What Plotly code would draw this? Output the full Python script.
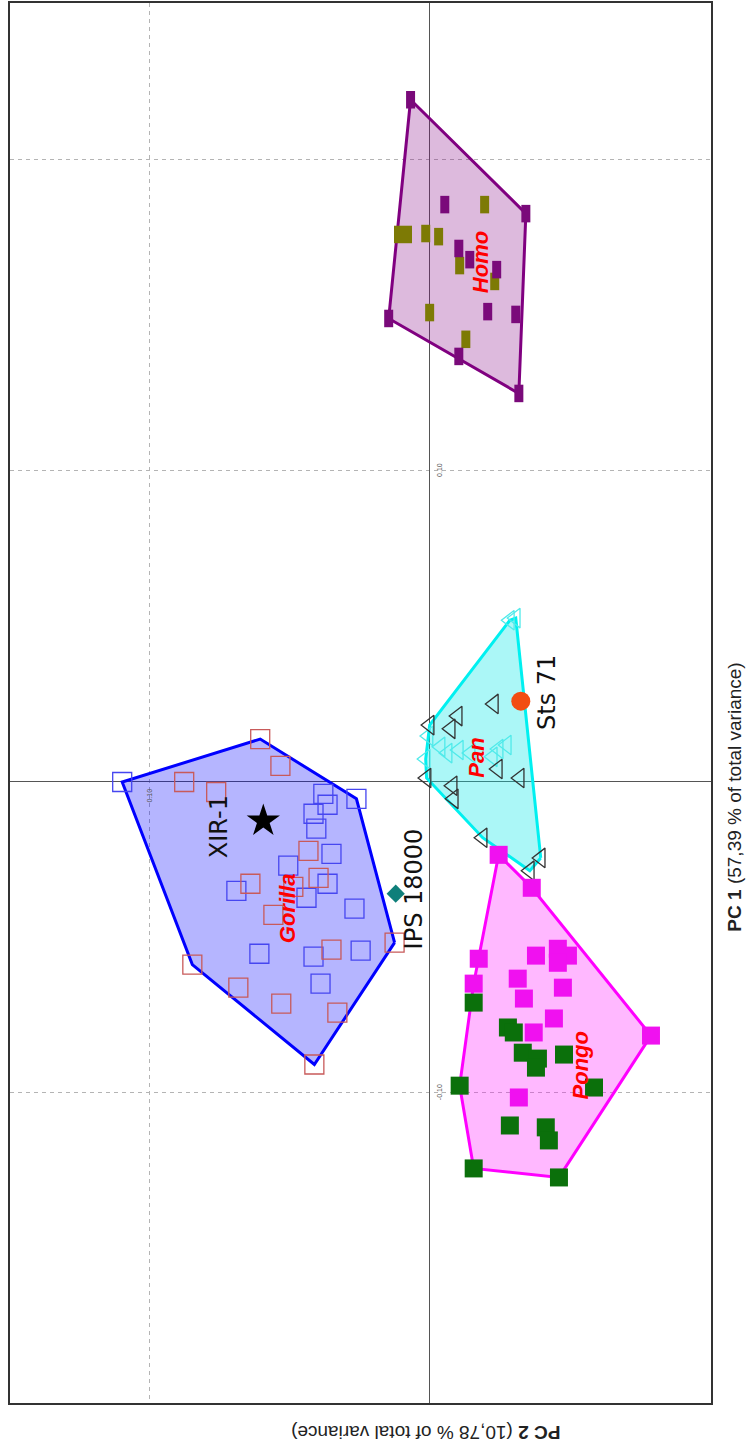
import plotly.graph_objects as go

# ---- PCA scores: PC2 (horizontal, increasing to the left) and PC1 (vertical) ----
gorilla_a_pc2 = [0.1096, 0.0379, 0.0364, 0.0261, 0.0414, 0.0404, 0.0350, 0.0504,
                 0.0689, 0.0364, 0.0439, 0.0268, 0.0246, 0.0414, 0.0607, 0.0389]
gorilla_a_pc1 = [-0.0002, -0.0040, -0.0075, -0.0056, -0.0104, -0.0152, -0.0233, -0.0271,
                 -0.0352, -0.0329, -0.0374, -0.0409, -0.0544, -0.0563, -0.0554, -0.0650]

gorilla_b_pc2 = [0.0604, 0.0532, 0.0875, 0.0761, 0.0432, 0.0639, 0.0486, 0.0396,
                 0.0557, 0.0125, 0.0350, 0.0846, 0.0682, 0.0529, 0.0329, 0.0411]
gorilla_b_pc1 = [0.0136, 0.0050, -0.0002, -0.0034, -0.0223, -0.0329, -0.0339, -0.0310,
                 -0.0429, -0.0518, -0.0541, -0.0589, -0.0663, -0.0714, -0.0743, -0.0910]

pan_a_pc2 = [-0.0229, -0.0100, 0.0000, -0.0075, -0.0243, 0.0011, -0.0321, -0.0082,
             -0.0086, -0.0189, -0.0396, -0.0357]
pan_a_pc1 = [0.0249, 0.0210, 0.0181, 0.0169, 0.0040, 0.0011, 0.0011, -0.0014,
             -0.0056, -0.0181, -0.0246, -0.0287]

pan_b_pc2 = [-0.0307, -0.0286, 0.0004, -0.0039, 0.0014, -0.0104, -0.0146, -0.0246,
             -0.0275, -0.0225, -0.0064]
pan_b_pc1 = [0.0525, 0.0518, 0.0146, 0.0111, 0.0072, 0.0101, 0.0091, 0.0104,
             0.0117, 0.0079, 0.0091]

pongo_a_pc2 = [-0.0246, -0.0364, -0.0175, -0.0157, -0.0379, -0.0457, -0.0493, -0.0457,
               -0.0314, -0.0475, -0.0336, -0.0443, -0.0371, -0.0789, -0.0318]
pongo_a_pc1 = [-0.0236, -0.0342, -0.0570, -0.0650, -0.0560, -0.0538, -0.0560, -0.0583,
               -0.0634, -0.0663, -0.0698, -0.0762, -0.0807, -0.0817, -0.1016]

pongo_b_pc2 = [-0.0157, -0.0279, -0.0300, -0.0332, -0.0386, -0.0379, -0.0479, -0.0107,
               -0.0586, -0.0286, -0.0414, -0.0425, -0.0157, -0.0461]
pongo_b_pc1 = [-0.0711, -0.0791, -0.0807, -0.0872, -0.0891, -0.0920, -0.0878, -0.0978,
               -0.0984, -0.1106, -0.1112, -0.1154, -0.1244, -0.1273]

homo_a_pc2 = [0.0068, -0.0343, -0.0054, -0.0104, -0.0143, -0.0239, -0.0207, -0.0307,
              0.0146, -0.0104, -0.0318]
homo_a_pc1 = [0.2191, 0.1825, 0.1854, 0.1713, 0.1677, 0.1645, 0.1510, 0.1501,
              0.1488, 0.1366, 0.1247]

homo_b_pc2 = [-0.0196, 0.0111, 0.0079, 0.0014, -0.0032, -0.0107, -0.0232, 0.0000, -0.0129]
homo_b_pc1 = [0.1854, 0.1758, 0.1758, 0.1761, 0.1751, 0.1658, 0.1607, 0.1507, 0.1421]

# fossil specimens
fossil_names = ["XIR-1", "IPS 18000", "Sts 71"]
fossil_pc2 = [0.0593, 0.0121, -0.0325]
fossil_pc1 = [-0.0127, -0.0361, 0.0258]

# genus labels
genus_names = ["Gorilla", "Pan", "Pongo", "Homo"]
genus_pc2 = [0.0507, -0.0164, -0.0536, -0.0182]
genus_pc1 = [-0.0406, 0.0075, -0.0913, 0.1668]

# axis tick labels drawn along the zero lines
pc1_ticks = [0.10, -0.10]
pc2_ticks = [0.10]

PC2_RANGE = [0.1496, -0.1003]
PC1_RANGE = [-0.1998, 0.2502]


def convex_hull(xs, ys):
    pts = sorted(set(zip(xs, ys)))

    def cross(o, a, b):
        return (a[0] - o[0]) * (b[1] - o[1]) - (a[1] - o[1]) * (b[0] - o[0])

    lower, upper = [], []
    for p in pts:
        while len(lower) >= 2 and cross(lower[-2], lower[-1], p) <= 0:
            lower.pop()
        lower.append(p)
    for p in reversed(pts):
        while len(upper) >= 2 and cross(upper[-2], upper[-1], p) <= 0:
            upper.pop()
        upper.append(p)
    ring = lower[:-1] + upper[:-1]
    ring.append(ring[0])
    return [p[0] for p in ring], [p[1] for p in ring]


fig = go.Figure()

groups = [
    (gorilla_a_pc2 + gorilla_b_pc2, gorilla_a_pc1 + gorilla_b_pc1, "#0000ff", "rgba(0,0,255,0.29)"),
    (pan_a_pc2 + pan_b_pc2, pan_a_pc1 + pan_b_pc1, "#00f0f0", "rgba(0,230,230,0.33)"),
    (pongo_a_pc2 + pongo_b_pc2, pongo_a_pc1 + pongo_b_pc1, "#ff00ff", "rgba(255,0,255,0.28)"),
    (homo_a_pc2 + homo_b_pc2, homo_a_pc1 + homo_b_pc1, "#800080", "rgba(128,0,128,0.27)"),
]
for gx, gy, lc, fc in groups:
    hx, hy = convex_hull(gx, gy)
    fig.add_trace(go.Scatter(x=hx, y=hy, mode="lines", fill="toself", fillcolor=fc,
                             line=dict(color=lc, width=3), hoverinfo="skip"))


def pts(x, y, symbol, size, color, lw=0, lcolor=None):
    fig.add_trace(go.Scatter(
        x=x, y=y, mode="markers",
        marker=dict(symbol=symbol, size=size, color=color,
                    line=dict(width=lw, color=lcolor or color))))


pts(gorilla_a_pc2, gorilla_a_pc1, "square-open", 19, "#4646f0", 1.3)
pts(gorilla_b_pc2, gorilla_b_pc1, "square-open", 19, "#c85a5a", 1.3)
pts(pan_b_pc2, pan_b_pc1, "triangle-left-open", 17, "#50eaea", 1.3)
pts(pan_a_pc2, pan_a_pc1, "triangle-left-open", 17, "#333333", 1.3)
pts(pongo_a_pc2, pongo_a_pc1, "square", 18, "#f011f0")
pts(pongo_b_pc2, pongo_b_pc1, "square", 18, "#0b700b")
pts(homo_b_pc2, homo_b_pc1, "line-ns-open", 12.5, "#7d7a05", 9)
pts(homo_a_pc2, homo_a_pc1, "line-ns-open", 12.5, "#7a0a7a", 9)

fossil_style = [("star", 25, "#000000"), ("diamond", 14, "#0f7f7a"), ("circle", 19, "#f24d12")]
for i, (sym, sz, col) in enumerate(fossil_style):
    pts([fossil_pc2[i]], [fossil_pc1[i]], sym, sz, col)

label_shift = [(-44, -6), (18, 5), (26, 9)]
for name, x, y, (dx, dy) in zip(fossil_names, fossil_pc2, fossil_pc1, label_shift):
    fig.add_annotation(x=x, y=y, text=name, showarrow=False, textangle=-90,
                       xshift=dx, yshift=dy,
                       font=dict(family="DejaVu Sans", size=24, color="#111111"))

for name, x, y in zip(genus_names, genus_pc2, genus_pc1):
    fig.add_annotation(x=x, y=y, text=f"<b><i>{name}</i></b>", showarrow=False,
                       textangle=-90,
                       font=dict(family="Liberation Sans, Arial", size=22, color="#ff0000"))

for t in pc1_ticks:
    fig.add_annotation(x=0, y=t, text=f"{t:.2f}", showarrow=False, textangle=-90,
                       xshift=10, font=dict(family="Liberation Sans, Arial", size=7, color="#555"))
for t in pc2_ticks:
    fig.add_annotation(x=t, y=0, text=f"{t:.2f}", showarrow=False, textangle=-90,
                       yshift=-14, font=dict(family="Liberation Sans, Arial", size=7, color="#555"))

fig.add_annotation(xref="paper", yref="paper", x=1.034, y=0.433,
                   xanchor="center", yanchor="middle",
                   text="<b>PC 1</b> (57,39 % of total variance)", showarrow=False,
                   textangle=-90, font=dict(family="Liberation Sans, Arial", size=19, color="#222"))
fig.add_annotation(xref="paper", yref="paper", x=0.593, y=-0.0207,
                   xanchor="center", yanchor="middle",
                   text="<b>PC 2</b> (10,78 % of total variance)", showarrow=False,
                   textangle=180, font=dict(family="Liberation Sans, Arial", size=19, color="#222"))

axis_common = dict(tick0=0, dtick=0.1, showgrid=True, gridcolor="#b4b4b4", gridwidth=1,
                   griddash="4px,4px", zeroline=True, zerolinecolor="#555555",
                   zerolinewidth=1, showline=True, mirror=True, linecolor="#333333",
                   linewidth=2, showticklabels=False, ticks="")

fig.update_layout(
    width=747, height=1450,
    margin=dict(l=10, r=36, t=1, b=47),
    plot_bgcolor="white", paper_bgcolor="white",
    showlegend=False,
    xaxis=dict(range=PC2_RANGE, **axis_common),
    yaxis=dict(range=PC1_RANGE, **axis_common),
)

fig.write_html("out.html")
